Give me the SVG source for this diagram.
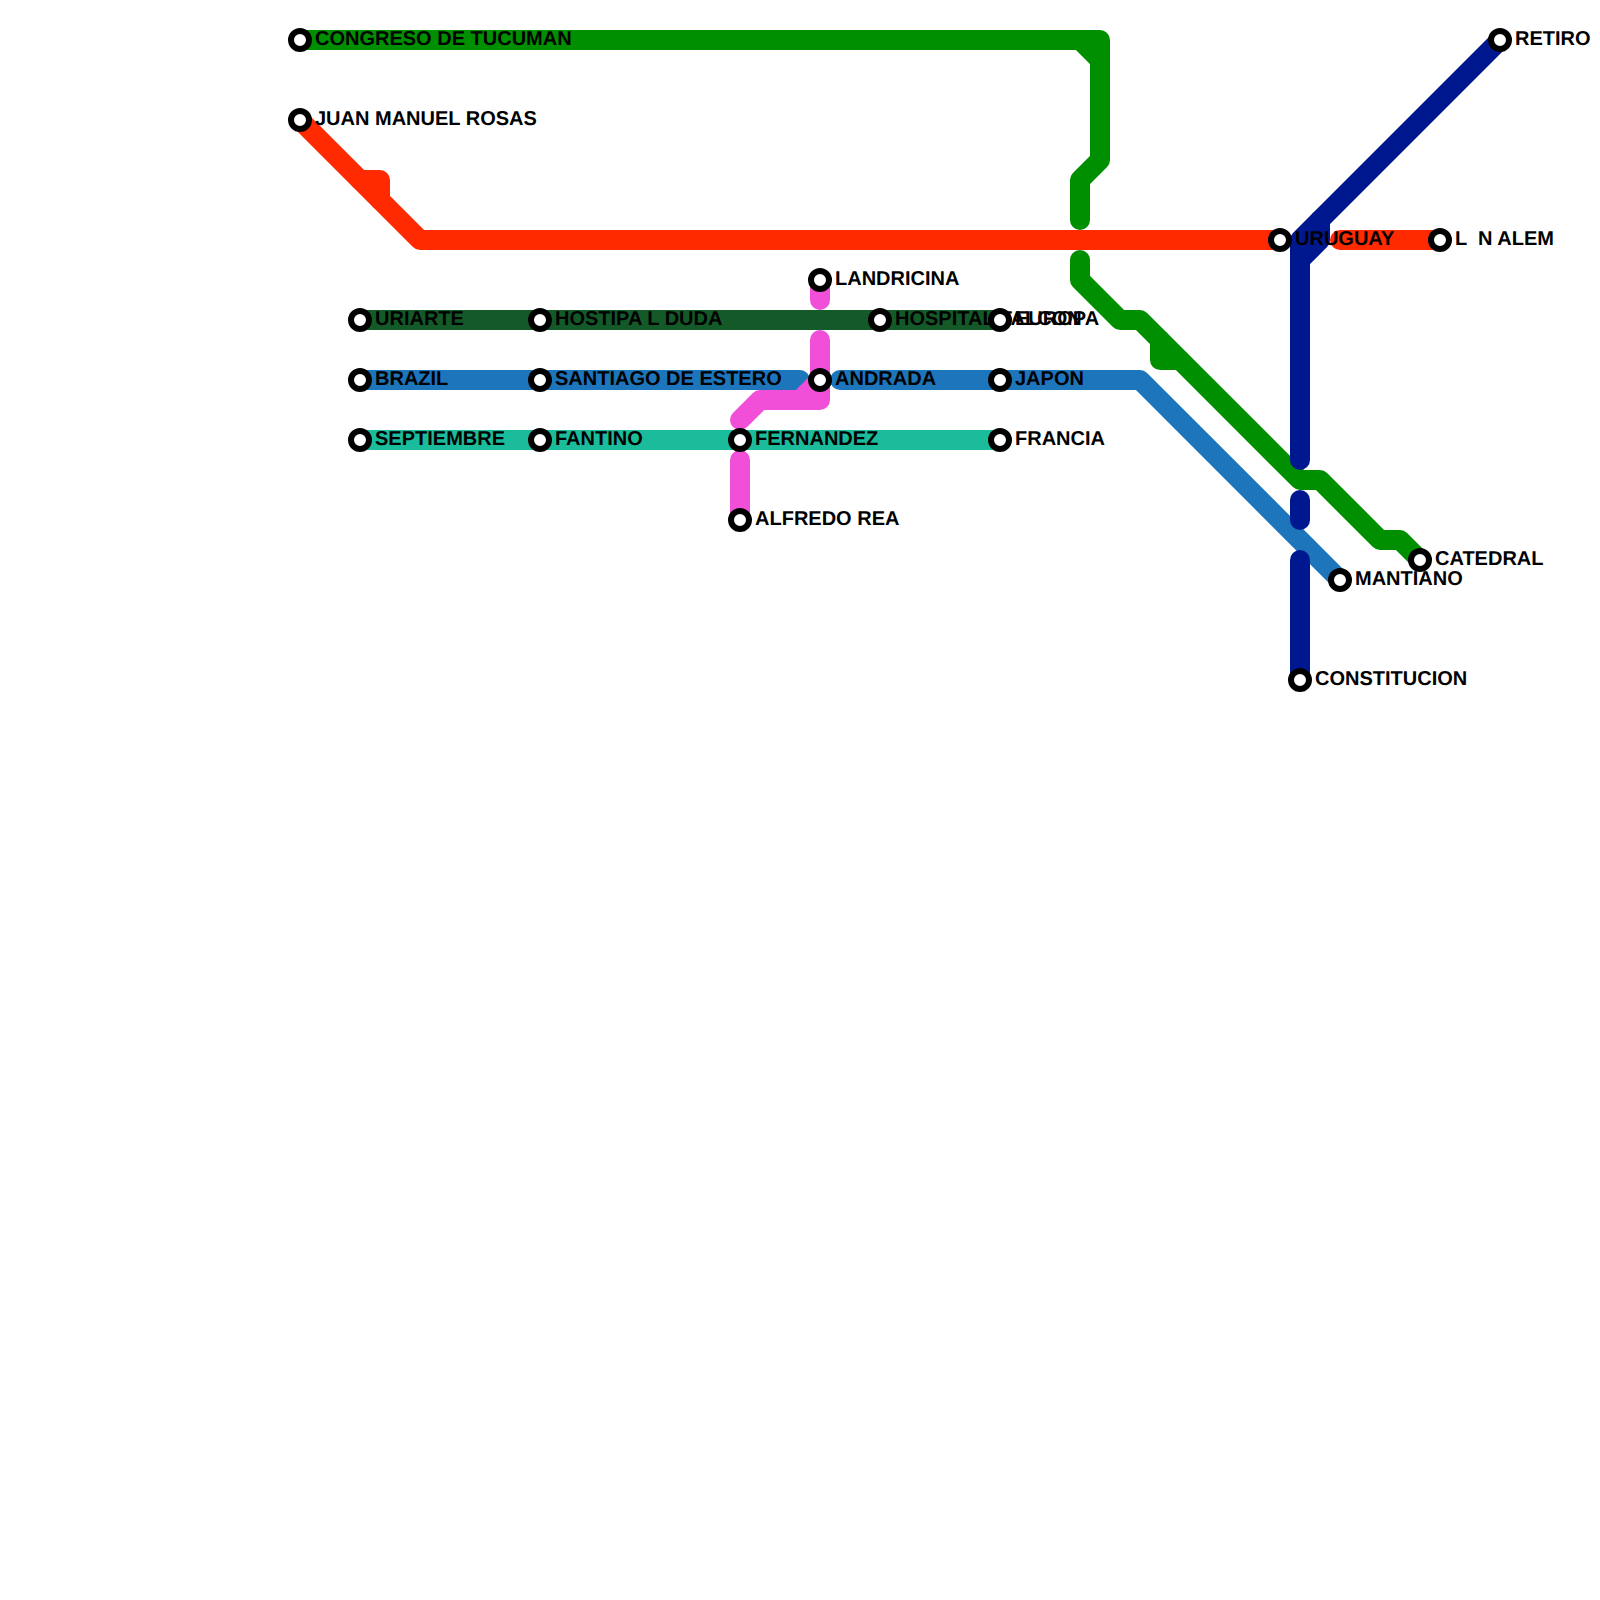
<svg xmlns="http://www.w3.org/2000/svg" width="1600" height="1600" viewBox="0 0 1600 1600">
<style>
.l{fill:none;stroke-width:20;stroke-linecap:round;stroke-linejoin:round}
.g{stroke:#008f00}.r{stroke:#ff2a00}.n{stroke:#00188f}.u{stroke:#1d75bc}.t{stroke:#1abc9c}.d{stroke:#145a28}.p{stroke:#f14fd8}
.s circle{fill:#fff;stroke:#000;stroke-width:6}
.s text{font-family:"Liberation Sans",Arial,sans-serif;font-weight:700;font-size:20px;fill:#000;white-space:pre;text-rendering:geometricPrecision}
</style>
<rect width="1600" height="1600" fill="#fff"/>
<g id="connectors">
<path class="l d" d="M360 320H1000"/>
<path class="l u" d="M360 380H800"/>
<path class="l u" d="M840 380H1140L1340 580"/>
<path class="l t" d="M360 440H1000"/>
<path class="l r" d="M300 120L420 240H1280"/>
<path class="l r" d="M360 180H380V200"/>
<path class="l r" d="M1340 240H1440"/>
<path class="l g" d="M300 40H1100V160L1080 180V220"/>
<path class="l g" d="M1080 40L1100 60"/>
<path class="l g" d="M1080 260V280L1120 320H1140L1300 480H1320L1380 540H1400L1420 560"/>
<path class="l g" d="M1160 340V360H1180"/>
<path class="l n" d="M1500 40L1300 240V460"/>
<path class="l n" d="M1320 220V240L1300 260"/>
<path class="l n" d="M1300 500V520"/>
<path class="l n" d="M1300 560V680"/>
<path class="l p" d="M820 280V300"/>
<path class="l p" d="M820 340V400H760L740 420"/>
<path class="l p" d="M800 400L820 380"/>
<path class="l p" d="M740 460V520"/>
</g>
<g id="st-congreso" class="s"><circle cx="300" cy="40" r="9"/><text x="315" y="45">CONGRESO DE TUCUMAN</text></g>
<g id="st-juan" class="s"><circle cx="300" cy="120" r="9"/><text x="315" y="125">JUAN MANUEL ROSAS</text></g>
<g id="st-uriarte" class="s"><circle cx="360" cy="320" r="9"/><text x="375" y="325">URIARTE</text></g>
<g id="st-brazil" class="s"><circle cx="360" cy="380" r="9"/><text x="375" y="385">BRAZIL</text></g>
<g id="st-septiembre" class="s"><circle cx="360" cy="440" r="9"/><text x="375" y="445">SEPTIEMBRE</text></g>
<g id="st-hostipa" class="s"><circle cx="540" cy="320" r="9"/><text x="555" y="325">HOSTIPA L DUDA</text></g>
<g id="st-santiago" class="s"><circle cx="540" cy="380" r="9"/><text x="555" y="385">SANTIAGO DE ESTERO</text></g>
<g id="st-fantino" class="s"><circle cx="540" cy="440" r="9"/><text x="555" y="445">FANTINO</text></g>
<g id="st-fernandez" class="s"><circle cx="740" cy="440" r="9"/><text x="755" y="445">FERNANDEZ</text></g>
<g id="st-alfredo" class="s"><circle cx="740" cy="520" r="9"/><text x="755" y="525">ALFREDO REA</text></g>
<g id="st-landricina" class="s"><circle cx="820" cy="280" r="9"/><text x="835" y="285">LANDRICINA</text></g>
<g id="st-andrada" class="s"><circle cx="820" cy="380" r="9"/><text x="835" y="385">ANDRADA</text></g>
<g id="st-hospital" class="s"><circle cx="880" cy="320" r="9"/><text x="895" y="325">HOSPITAL TALCON</text></g>
<g id="st-europa" class="s"><circle cx="1000" cy="320" r="9"/><text x="1015" y="325">EUROPA</text></g>
<g id="st-japon" class="s"><circle cx="1000" cy="380" r="9"/><text x="1015" y="385">JAPON</text></g>
<g id="st-francia" class="s"><circle cx="1000" cy="440" r="9"/><text x="1015" y="445">FRANCIA</text></g>
<g id="st-uruguay" class="s"><circle cx="1280" cy="240" r="9"/><text x="1295" y="245">URUGUAY</text></g>
<g id="st-alem" class="s"><circle cx="1440" cy="240" r="9"/><text x="1455" y="245">L  N ALEM</text></g>
<g id="st-retiro" class="s"><circle cx="1500" cy="40" r="9"/><text x="1515" y="45">RETIRO</text></g>
<g id="st-catedral" class="s"><circle cx="1420" cy="560" r="9"/><text x="1435" y="565">CATEDRAL</text></g>
<g id="st-mantiano" class="s"><circle cx="1340" cy="580" r="9"/><text x="1355" y="585">MANTIANO</text></g>
<g id="st-constitucion" class="s"><circle cx="1300" cy="680" r="9"/><text x="1315" y="685">CONSTITUCION</text></g>
</svg>
